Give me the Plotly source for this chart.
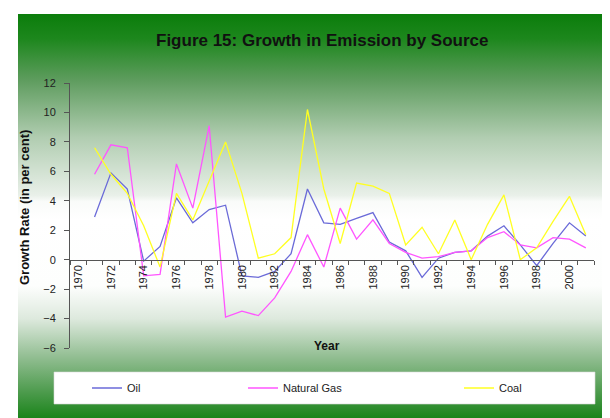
import base64
import plotly.graph_objects as go

# ---- data ----
years = list(range(1971, 2002))
oil = [2.9, 5.9, 4.8, -0.1, 0.9, 4.2, 2.5, 3.4, 3.7, -1.1, -1.2, -0.8, 0.4, 4.8, 2.5, 2.4,
       2.8, 3.2, 1.2, 0.6, -1.2, 0.1, 0.5, 0.6, 1.6, 2.3, 1.0, -0.4, 1.1, 2.5, 1.6]
natural_gas = [5.8, 7.8, 7.6, -1.1, -1.0, 6.5, 3.5, 9.1, -3.9, -3.5, -3.8, -2.6, -0.8, 1.7, -0.5, 3.5,
               1.4, 2.7, 1.1, 0.5, 0.1, 0.2, 0.5, 0.6, 1.5, 1.9, 1.0, 0.8, 1.5, 1.4, 0.8]
coal = [7.6, 5.8, 4.5, 2.3, -0.5, 4.5, 2.7, 5.4, 8.0, 4.5, 0.1, 0.4, 1.5, 10.2, 4.8, 1.1,
        5.2, 5.0, 4.5, 1.0, 2.2, 0.4, 2.7, 0.0, 2.4, 4.4, 0.0, 0.8, 2.6, 4.3, 1.7]
x_tick_labels = [str(y) for y in range(1970, 2001, 2)]
y_tick_values = [12, 10, 8, 6, 4, 2, 0, -2, -4, -6]

# ---- geometry helpers (pixel -> paper) ----
W, H = 610, 418
L, R, T, B = 62, 24, 75, 78
PW, PH = W - L - R, H - T - B


def px(x):
    return (x - L) / PW


def py(y):
    return (H - B - y) / PH


FONT = "Liberation Sans, Arial, sans-serif"

# background gradient (green - white - green) as SVG
stops = [(0.00, "#0b7d0b"), (0.06, "#1d871d"), (0.16, "#5e9c5e"), (0.30, "#b1cdb1"),
         (0.44, "#e9f0e9"), (0.455, "#f9fbf9"), (0.50, "#ffffff"), (0.66, "#fdfefd"),
         (0.74, "#dde9dd"), (0.83, "#94bf94"), (0.92, "#4b9a4b"), (1.00, "#0b7d0b")]
stop_xml = "".join(f'<stop offset="{o}" stop-color="{c}"/>' for o, c in stops)
svg = ('<svg xmlns="http://www.w3.org/2000/svg" width="600" height="412" preserveAspectRatio="none">'
       '<defs><linearGradient id="g" x1="0" y1="0" x2="0" y2="1">' + stop_xml +
       '</linearGradient></defs><rect width="600" height="412" fill="url(#g)"/></svg>')
svg_uri = "data:image/svg+xml;base64," + base64.b64encode(svg.encode()).decode()

fig = go.Figure()
series = [("Oil", oil, "#6a6ad8", "legend"),
          ("Natural Gas", natural_gas, "#ff55ff", "legend2"),
          ("Coal", coal, "#ffff22", "legend3")]
for name, vals, col, lg in series:
    fig.add_trace(go.Scatter(x=years, y=vals, name=name, mode="lines",
                             line=dict(color=col, width=1.3), legend=lg))

leg_common = dict(orientation="h", bgcolor="rgba(0,0,0,0)", borderwidth=0,
                  font=dict(family=FONT, size=11, color="#222"),
                  yanchor="middle", y=py(380), xanchor="left")

fig.update_layout(
    width=W, height=H,
    margin=dict(l=L, r=R, t=T, b=B, pad=0),
    paper_bgcolor="white",
    plot_bgcolor="rgba(0,0,0,0)",
    showlegend=True,
    legend=dict(leg_common, x=px(79)),
    legend2=dict(leg_common, x=px(235)),
    legend3=dict(leg_common, x=px(451)),
    xaxis=dict(range=[1969.5, 2001.5], anchor="free", position=1 / 3,
               tickvals=list(range(1970, 2001, 2)), ticktext=x_tick_labels,
               tickangle=-90, ticks="", showgrid=False, zeroline=False,
               showline=True, linecolor="#555", linewidth=1,
               tickfont=dict(family=FONT, size=11, color="#222"),
               minor=dict(ticks="outside", tick0=1969.5, dtick=1, ticklen=4,
                          tickcolor="#555", showgrid=False)),
    yaxis=dict(range=[-6, 12], domain=[0, 1], tickvals=y_tick_values,
               ticks="outside", ticklen=5, tickcolor="#555", ticklabelstandoff=6,
               showgrid=False, zeroline=False, showline=True, linecolor="#555", linewidth=1,
               tickfont=dict(family=FONT, size=11, color="#222")),
    images=[dict(source=svg_uri, xref="paper", yref="paper", x=px(10), y=py(6),
                 sizex=px(610) - px(10), sizey=py(6) - py(418), sizing="stretch",
                 xanchor="left", yanchor="top", layer="below")],
    shapes=[dict(type="rect", xref="paper", yref="paper", x0=px(46), x1=px(587),
                 y0=py(396), y1=py(364), fillcolor="white",
                 line=dict(color="#d8d8d8", width=0.6), layer="below")],
    annotations=[
        dict(text="<b>Figure 15: Growth in Emission by Source</b>", xref="paper", yref="paper",
             x=px(314), y=py(32), showarrow=False, xanchor="center", yanchor="middle",
             font=dict(family=FONT, size=17, color="#111")),
        dict(text="<b>Growth Rate (in per cent)</b>", xref="paper", yref="paper",
             x=px(16), y=py(200), showarrow=False, textangle=-90,
             xanchor="center", yanchor="middle",
             font=dict(family=FONT, size=13, color="#111")),
        dict(text="<b>Year</b>", xref="paper", yref="paper",
             x=px(319), y=py(338), showarrow=False, xanchor="center", yanchor="middle",
             font=dict(family=FONT, size=12, color="#111")),
    ],
)

fig.write_html("out.html")
